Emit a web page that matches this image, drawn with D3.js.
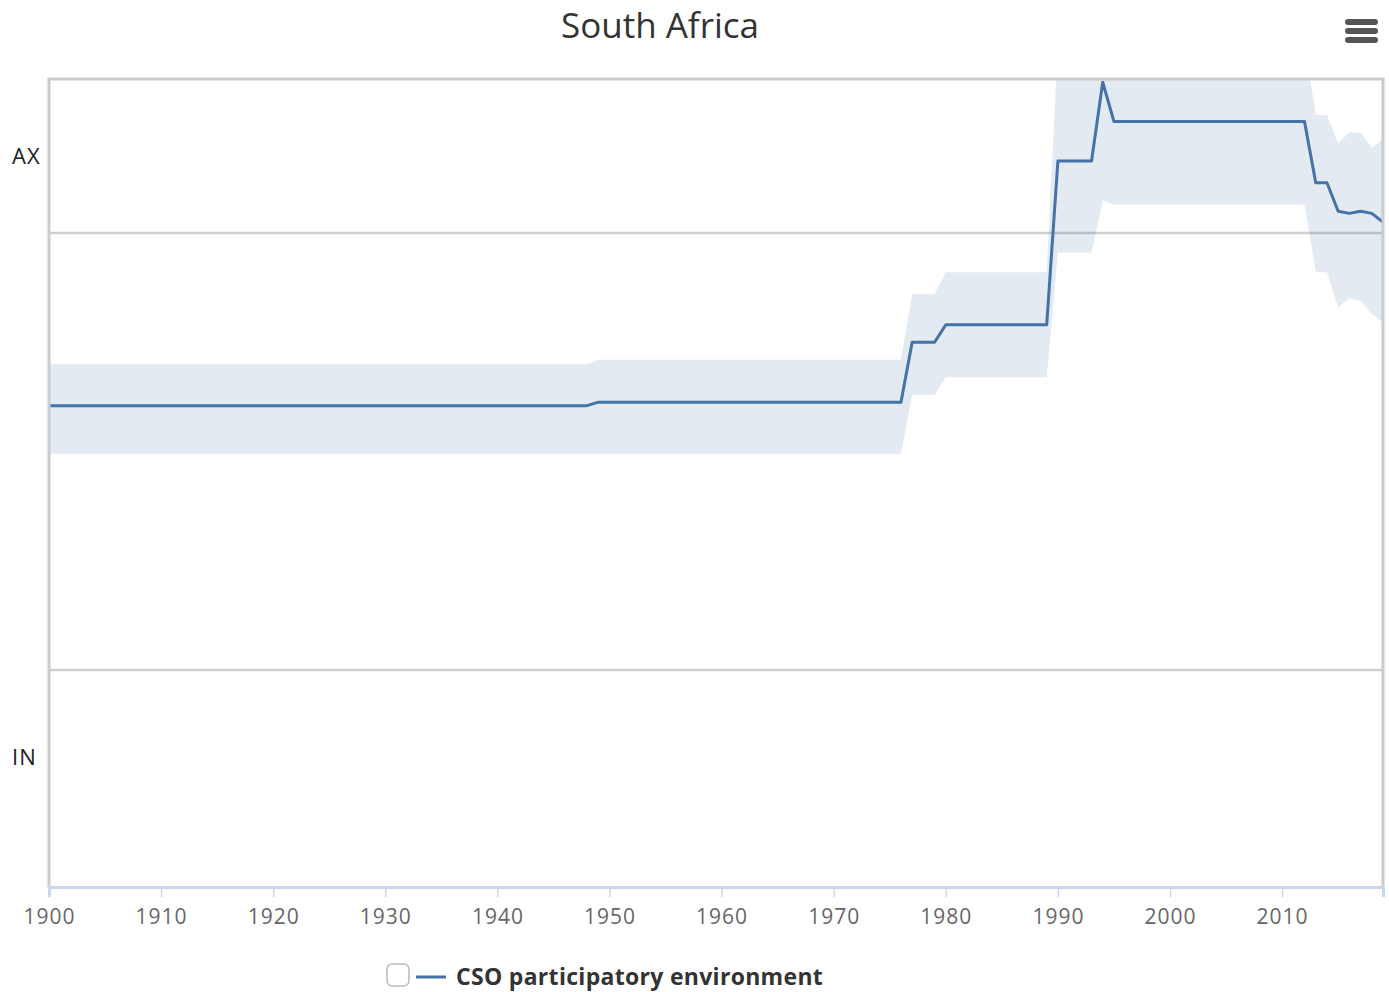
<!DOCTYPE html>
<html>
<head>
<meta charset="utf-8">
<script src="https://cdn.jsdelivr.net/npm/d3@7"></script>
<style>
  html, body { margin: 0; padding: 0; background: #fff; }
  svg { display: block; }
</style>
</head>
<body>
<svg id="chart" width="1389" height="992"></svg>
<script>
// CSO participatory environment, South Africa, 1900–2019 (point estimate and interval)
const years = d3.range(1900, 2020);

const cso = [
  0.21, 0.21, 0.21, 0.21, 0.21, 0.21, 0.21, 0.21, 0.21, 0.21,
  0.21, 0.21, 0.21, 0.21, 0.21, 0.21, 0.21, 0.21, 0.21, 0.21,
  0.21, 0.21, 0.21, 0.21, 0.21, 0.21, 0.21, 0.21, 0.21, 0.21,
  0.21, 0.21, 0.21, 0.21, 0.21, 0.21, 0.21, 0.21, 0.21, 0.21,
  0.21, 0.21, 0.21, 0.21, 0.21, 0.21, 0.21, 0.21, 0.21, 0.226,
  0.226, 0.226, 0.226, 0.226, 0.226, 0.226, 0.226, 0.226, 0.226, 0.226,
  0.226, 0.226, 0.226, 0.226, 0.226, 0.226, 0.226, 0.226, 0.226, 0.226,
  0.226, 0.226, 0.226, 0.226, 0.226, 0.226, 0.226, 0.50, 0.50, 0.50,
  0.58, 0.58, 0.58, 0.58, 0.58, 0.58, 0.58, 0.58, 0.58, 0.58,
  1.33, 1.33, 1.33, 1.33, 1.69, 1.51, 1.51, 1.51, 1.51, 1.51,
  1.51, 1.51, 1.51, 1.51, 1.51, 1.51, 1.51, 1.51, 1.51, 1.51,
  1.51, 1.51, 1.51, 1.23, 1.23, 1.10, 1.09, 1.10, 1.09, 1.05
];

const upper = [
  0.40, 0.40, 0.40, 0.40, 0.40, 0.40, 0.40, 0.40, 0.40, 0.40,
  0.40, 0.40, 0.40, 0.40, 0.40, 0.40, 0.40, 0.40, 0.40, 0.40,
  0.40, 0.40, 0.40, 0.40, 0.40, 0.40, 0.40, 0.40, 0.40, 0.40,
  0.40, 0.40, 0.40, 0.40, 0.40, 0.40, 0.40, 0.40, 0.40, 0.40,
  0.40, 0.40, 0.40, 0.40, 0.40, 0.40, 0.40, 0.40, 0.40, 0.42,
  0.42, 0.42, 0.42, 0.42, 0.42, 0.42, 0.42, 0.42, 0.42, 0.42,
  0.42, 0.42, 0.42, 0.42, 0.42, 0.42, 0.42, 0.42, 0.42, 0.42,
  0.42, 0.42, 0.42, 0.42, 0.42, 0.42, 0.42, 0.72, 0.72, 0.72,
  0.82, 0.82, 0.82, 0.82, 0.82, 0.82, 0.82, 0.82, 0.82, 0.82,
  1.88, 1.88, 1.88, 1.88, 1.97, 1.88, 1.88, 1.88, 1.88, 1.88,
  1.88, 1.88, 1.88, 1.88, 1.88, 1.88, 1.88, 1.88, 1.88, 1.88,
  1.88, 1.88, 1.88, 1.54, 1.54, 1.41, 1.46, 1.46, 1.39, 1.43
];

const lower = [
  -0.01, -0.01, -0.01, -0.01, -0.01, -0.01, -0.01, -0.01, -0.01, -0.01,
  -0.01, -0.01, -0.01, -0.01, -0.01, -0.01, -0.01, -0.01, -0.01, -0.01,
  -0.01, -0.01, -0.01, -0.01, -0.01, -0.01, -0.01, -0.01, -0.01, -0.01,
  -0.01, -0.01, -0.01, -0.01, -0.01, -0.01, -0.01, -0.01, -0.01, -0.01,
  -0.01, -0.01, -0.01, -0.01, -0.01, -0.01, -0.01, -0.01, -0.01, -0.01,
  -0.01, -0.01, -0.01, -0.01, -0.01, -0.01, -0.01, -0.01, -0.01, -0.01,
  -0.01, -0.01, -0.01, -0.01, -0.01, -0.01, -0.01, -0.01, -0.01, -0.01,
  -0.01, -0.01, -0.01, -0.01, -0.01, -0.01, -0.01, 0.26, 0.26, 0.26,
  0.34, 0.34, 0.34, 0.34, 0.34, 0.34, 0.34, 0.34, 0.34, 0.34,
  0.91, 0.91, 0.91, 0.91, 1.15, 1.13, 1.13, 1.13, 1.13, 1.13,
  1.13, 1.13, 1.13, 1.13, 1.13, 1.13, 1.13, 1.13, 1.13, 1.13,
  1.13, 1.13, 1.13, 0.82, 0.82, 0.66, 0.70, 0.69, 0.63, 0.59
];

const xTicks = [1900, 1910, 1920, 1930, 1940, 1950, 1960, 1970, 1980, 1990, 2000, 2010];
const yGrid = [-1, 1];
const yLabels = [{ text: "AX", value: 1.35 }, { text: "IN", value: -1.4 }];

const title = "South Africa";
const seriesName = "CSO participatory environment";

const plot = { left: 49, top: 79, right: 1383, bottom: 887 };
const lineColor = "#4572a7";

const svg = d3.select("#chart");

const x = d3.scaleLinear().domain([1900, 2019]).range([plot.left, plot.right]);
const y = d3.scaleLinear().domain([-1.993, 1.705]).range([plot.bottom, plot.top]);

const data = years.map((yr, i) => ({ year: yr, v: cso[i], lo: lower[i], hi: upper[i] }));

svg.append("defs").append("clipPath").attr("id", "plotClip")
  .append("rect")
  .attr("x", plot.left).attr("y", plot.top)
  .attr("width", plot.right - plot.left).attr("height", plot.bottom - plot.top);

// Title
svg.append("text")
  .attr("x", 660).attr("y", 38)
  .attr("text-anchor", "middle")
  .attr("font-family", "'Open Sans', sans-serif")
  .attr("font-size", 35)
  .attr("fill", "#333")
  .text(title);

// Menu icon
svg.append("g").selectAll("rect")
  .data([0, 1, 2]).join("rect")
  .attr("x", 1345).attr("y", d => 19 + d * 9)
  .attr("width", 33).attr("height", 6).attr("rx", 3)
  .attr("fill", "#555");

// Horizontal grid lines
svg.append("g").selectAll("line")
  .data(yGrid).join("line")
  .attr("x1", plot.left).attr("x2", plot.right)
  .attr("y1", d => y(d)).attr("y2", d => y(d))
  .attr("stroke", "#cfcfcf").attr("stroke-width", 2.5);

// Category labels on the left
svg.append("g").selectAll("text")
  .data(yLabels).join("text")
  .attr("x", 12).attr("y", d => y(d.value))
  .attr("dy", "0.35em")
  .attr("font-family", "'Open Sans', sans-serif")
  .attr("font-size", 22)
  .attr("letter-spacing", 1)
  .attr("fill", "#222")
  .text(d => d.text);

const gSeries = svg.append("g").attr("clip-path", "url(#plotClip)");

// Uncertainty band
gSeries.append("path")
  .datum(data)
  .attr("fill", lineColor)
  .attr("fill-opacity", 0.15)
  .attr("d", d3.area().x(d => x(d.year)).y0(d => y(d.lo)).y1(d => y(d.hi)));

// Point estimate line
gSeries.append("path")
  .datum(data)
  .attr("fill", "none")
  .attr("stroke", lineColor)
  .attr("stroke-width", 3)
  .attr("stroke-linejoin", "round")
  .attr("d", d3.line().x(d => x(d.year)).y(d => y(d.v)));

// Plot frame (top, left, right)
svg.append("path")
  .attr("d", `M${plot.left},${plot.bottom} V${plot.top} H${plot.right} V${plot.bottom}`)
  .attr("fill", "none")
  .attr("stroke", "#cccccc").attr("stroke-width", 3);

// X axis
const xAxis = svg.append("g")
  .attr("transform", `translate(0,${plot.bottom})`)
  .call(d3.axisBottom(x).tickValues(xTicks).tickFormat(d3.format("d")).tickSize(10).tickPadding(12));
xAxis.select(".domain").attr("stroke", "#ccd6eb").attr("stroke-width", 3);
xAxis.selectAll(".tick line").attr("stroke", "#ccd6eb").attr("stroke-width", 1.5);
xAxis.selectAll(".tick text")
  .attr("font-family", "'Open Sans', sans-serif")
  .attr("font-size", 21)
  .attr("letter-spacing", 1)
  .attr("fill", "#666");

// Legend
const legend = svg.append("g");
legend.append("rect")
  .attr("x", 387).attr("y", 964).attr("width", 22).attr("height", 22).attr("rx", 5)
  .attr("fill", "#fff").attr("stroke", "#bbb").attr("stroke-width", 1.5);
legend.append("line")
  .attr("x1", 416).attr("x2", 446).attr("y1", 977).attr("y2", 977)
  .attr("stroke", lineColor).attr("stroke-width", 3);
legend.append("text")
  .attr("x", 456).attr("y", 985)
  .attr("font-family", "'Open Sans', sans-serif")
  .attr("font-size", 23)
  .attr("font-weight", "bold")
  .attr("letter-spacing", 0.3)
  .attr("fill", "#333")
  .text(seriesName);
</script>
</body>
</html>
